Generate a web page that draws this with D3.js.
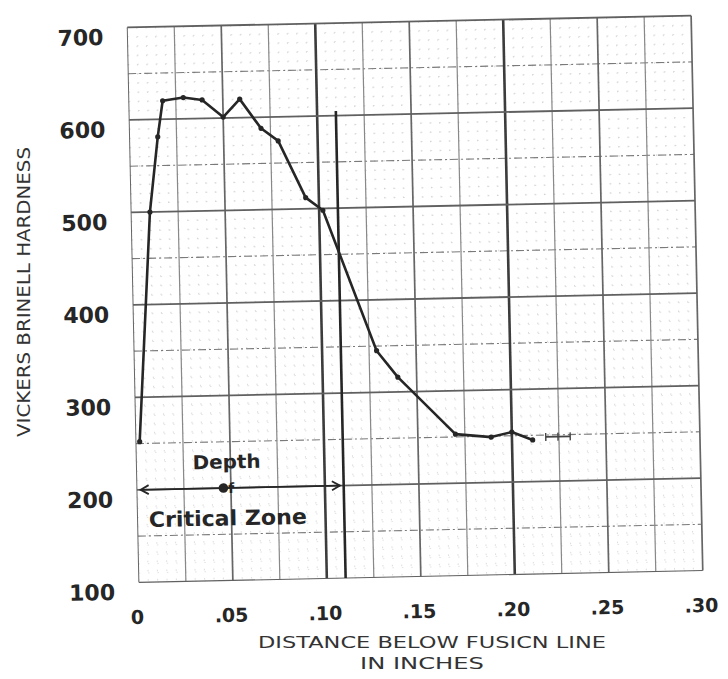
<!DOCTYPE html>
<html>
<head>
<meta charset="utf-8">
<script src="https://cdn.jsdelivr.net/npm/d3@7"></script>
<style>
  body { margin: 0; background: #fff; }
</style>
</head>
<body>
<div id="chart"></div>
<script>
// hardness traverse
const distance = [0.002, 0.010, 0.015, 0.018, 0.029, 0.039, 0.050, 0.059, 0.070, 0.079, 0.093, 0.102, 0.129, 0.140, 0.170, 0.189, 0.200, 0.211];
const hardness = [252, 500, 581, 620, 623, 620, 601, 620, 588, 574, 512, 498, 345, 316, 253, 249, 254, 245];

// short ticked stub drawn after the last reading
const tailDistance = [0.218, 0.231];
const tailHardness = [248, 248];

const xTicks = [0, 0.05, 0.10, 0.15, 0.20, 0.25, 0.30];
const xTickLabels = ['0', '.05', '.10', '.15', '.20', '.25', '.30'];
const yTicks = [100, 200, 300, 400, 500, 600, 700];
const yTickLabels = ['100', '200', '300', '400', '500', '600', '700'];

const criticalDepth = 0.11;
const criticalTop = 605;
const zoneLevel = 200;

const width = 728, height = 679;
const ink = '#262626';

const svg = d3.select('#chart')
  .append('svg')
  .attr('width', width)
  .attr('height', height)
  .style('background', '#fff');

const xScale = d3.scaleLinear().domain([0, 0.30]).range([133, 697]);
const yScale = d3.scaleLinear().domain([100, 700]).range([576.5, 21.5]);

// the sheet sits slightly askew in the scan
const cx = (xScale.range()[0] + xScale.range()[1]) / 2;
const cy = (yScale.range()[0] + yScale.range()[1]) / 2;
const sheet = svg.append('g')
  .attr('transform', `rotate(-1.2, ${cx}, ${cy})`);

const defs = svg.append('defs');
['start', 'end'].forEach(function(k) {
  defs.append('marker')
    .attr('id', 'arrow-' + k)
    .attr('viewBox', '-10 -6 12 12')
    .attr('markerWidth', 12)
    .attr('markerHeight', 12)
    .attr('markerUnits', 'userSpaceOnUse')
    .attr('orient', k === 'start' ? 'auto-start-reverse' : 'auto')
    .append('path')
    .attr('d', 'M-8,-4.5 L0,0 L-8,4.5')
    .attr('fill', 'none')
    .attr('stroke', ink)
    .attr('stroke-width', 1.8);
});

// fine graph paper texture
const fineX = d3.range(0, 0.3001, 0.005);
const fineY = d3.range(100, 700.1, 10);
sheet.append('g')
  .selectAll('line')
  .data(fineX)
  .enter().append('line')
  .attr('x1', d => xScale(d)).attr('x2', d => xScale(d))
  .attr('y1', yScale(700)).attr('y2', yScale(100))
  .attr('stroke', '#aaa')
  .attr('stroke-width', 0.8)
  .attr('stroke-dasharray', '1.5,7.7')
  .attr('opacity', 0.5);
sheet.append('g')
  .selectAll('line')
  .data(fineY)
  .enter().append('line')
  .attr('x1', xScale(0)).attr('x2', xScale(0.3))
  .attr('y1', d => yScale(d)).attr('y2', d => yScale(d))
  .attr('stroke', '#aaa')
  .attr('stroke-width', 0.8)
  .attr('stroke-dasharray', '1.5,7.9')
  .attr('opacity', 0.4);

// dash-dot half lines
sheet.append('g')
  .selectAll('line')
  .data(d3.range(150, 700, 100))
  .enter().append('line')
  .attr('x1', xScale(0)).attr('x2', xScale(0.3))
  .attr('y1', d => yScale(d)).attr('y2', d => yScale(d))
  .attr('stroke', '#7a7a7a')
  .attr('stroke-width', 1.1)
  .attr('stroke-dasharray', '8,3,2,3');

// vertical rulings every .025
const vLines = d3.range(0, 0.3001, 0.025);
sheet.append('g')
  .selectAll('line')
  .data(vLines)
  .enter().append('line')
  .attr('x1', d => xScale(d)).attr('x2', d => xScale(d))
  .attr('y1', yScale(700)).attr('y2', yScale(100))
  .attr('stroke', function(d) {
    const k = Math.round(d * 1000);
    if (k === 100 || k === 200) return '#3c3c3c';
    if (k % 50 === 0) return '#666';
    return '#888';
  })
  .attr('stroke-width', function(d) {
    const k = Math.round(d * 1000);
    if (k === 100 || k === 200) return 2.6;
    if (k === 0) return 1;
    if (k % 50 === 0) return 1.7;
    return 1.2;
  });

// horizontal rulings every 100
sheet.append('g')
  .selectAll('line')
  .data(yTicks)
  .enter().append('line')
  .attr('x1', xScale(0)).attr('x2', xScale(0.3))
  .attr('y1', d => yScale(d)).attr('y2', d => yScale(d))
  .attr('stroke', '#606060')
  .attr('stroke-width', d => d === 100 ? 1.1 : 1.8);

// critical zone boundary
sheet.append('line')
  .attr('x1', xScale(criticalDepth)).attr('x2', xScale(criticalDepth))
  .attr('y1', yScale(criticalTop)).attr('y2', yScale(100))
  .attr('stroke', ink)
  .attr('stroke-width', 2.6);

// hardness curve
const points = distance.map((d, i) => ({ x: d, y: hardness[i] }));
const line = d3.line()
  .x(d => xScale(d.x))
  .y(d => yScale(d.y));

sheet.append('path')
  .datum(points)
  .attr('fill', 'none')
  .attr('stroke', ink)
  .attr('stroke-width', 2.6)
  .attr('stroke-linejoin', 'round')
  .attr('d', line);

sheet.append('g')
  .selectAll('circle')
  .data(points)
  .enter().append('circle')
  .attr('cx', d => xScale(d.x))
  .attr('cy', d => yScale(d.y))
  .attr('r', 2.6)
  .attr('fill', ink);

const tail = tailDistance.map((d, i) => ({ x: d, y: tailHardness[i] }));
sheet.append('path')
  .datum(tail)
  .attr('fill', 'none')
  .attr('stroke', '#444')
  .attr('stroke-width', 1.6)
  .attr('d', line);
sheet.append('g')
  .selectAll('line')
  .data(d3.range(tailDistance[0], tailDistance[1] + 0.0001, (tailDistance[1] - tailDistance[0]) / 2))
  .enter().append('line')
  .attr('x1', d => xScale(d)).attr('x2', d => xScale(d))
  .attr('y1', yScale(tailHardness[0]) - 4).attr('y2', yScale(tailHardness[0]) + 4)
  .attr('stroke', '#444')
  .attr('stroke-width', 1.4);

// depth of critical zone arrow
sheet.append('line')
  .attr('x1', xScale(0.002)).attr('x2', xScale(criticalDepth - 0.002))
  .attr('y1', yScale(zoneLevel)).attr('y2', yScale(zoneLevel))
  .attr('stroke', ink)
  .attr('stroke-width', 1.8)
  .attr('marker-start', 'url(#arrow-start)')
  .attr('marker-end', 'url(#arrow-end)');

sheet.append('circle')
  .attr('cx', xScale(0.046))
  .attr('cy', yScale(zoneLevel))
  .attr('r', 4.8)
  .attr('fill', ink);

const hand = 'DejaVu Sans, Verdana, sans-serif';

sheet.append('text')
  .attr('x', xScale(0.048))
  .attr('y', yScale(227))
  .attr('text-anchor', 'middle')
  .attr('dominant-baseline', 'middle')
  .attr('font-family', hand)
  .attr('font-weight', 'bold')
  .attr('font-size', 19)
  .attr('fill', ink)
  .attr('textLength', 68)
  .attr('lengthAdjust', 'spacingAndGlyphs')
  .text('Depth');

sheet.append('text')
  .attr('x', xScale(0.0485))
  .attr('y', yScale(zoneLevel) + 1)
  .attr('dominant-baseline', 'middle')
  .attr('font-family', hand)
  .attr('font-weight', 'bold')
  .attr('font-size', 14)
  .attr('fill', ink)
  .text('f');

sheet.append('text')
  .attr('x', xScale(0.048))
  .attr('y', yScale(166))
  .attr('text-anchor', 'middle')
  .attr('dominant-baseline', 'middle')
  .attr('font-family', hand)
  .attr('font-weight', 'bold')
  .attr('font-size', 21)
  .attr('fill', ink)
  .attr('textLength', 158)
  .attr('lengthAdjust', 'spacingAndGlyphs')
  .text('Critical Zone');

// tick labels
sheet.append('g')
  .selectAll('text')
  .data(yTicks)
  .enter().append('text')
  .attr('x', 109)
  .attr('y', d => yScale(d) + 11)
  .attr('text-anchor', 'end')
  .attr('dominant-baseline', 'middle')
  .attr('font-family', hand)
  .attr('font-weight', 'bold')
  .attr('font-size', 22)
  .attr('fill', ink)
  .text((d, i) => yTickLabels[i]);

sheet.append('g')
  .selectAll('text')
  .data(xTicks)
  .enter().append('text')
  .attr('x', d => xScale(d) - 2)
  .attr('y', yScale(100) + 36)
  .attr('text-anchor', 'middle')
  .attr('dominant-baseline', 'middle')
  .attr('font-family', hand)
  .attr('font-weight', 'bold')
  .attr('font-size', 19)
  .attr('fill', ink)
  .text((d, i) => xTickLabels[i]);

// axis titles
svg.append('text')
  .attr('transform', 'translate(25, 292) rotate(-90)')
  .attr('text-anchor', 'middle')
  .attr('dominant-baseline', 'middle')
  .attr('font-family', hand)
  .attr('font-size', 17)
  .attr('fill', '#333')
  .attr('textLength', 290)
  .attr('lengthAdjust', 'spacingAndGlyphs')
  .text('VICKERS BRINELL HARDNESS');

svg.append('text')
  .attr('x', 432)
  .attr('y', 643)
  .attr('text-anchor', 'middle')
  .attr('dominant-baseline', 'middle')
  .attr('font-family', hand)
  .attr('font-size', 15)
  .attr('fill', '#333')
  .attr('textLength', 348)
  .attr('lengthAdjust', 'spacingAndGlyphs')
  .text('DISTANCE BELOW FUSICN LINE');

svg.append('text')
  .attr('x', 422)
  .attr('y', 664)
  .attr('text-anchor', 'middle')
  .attr('dominant-baseline', 'middle')
  .attr('font-family', hand)
  .attr('font-size', 15)
  .attr('fill', '#333')
  .attr('textLength', 124)
  .attr('lengthAdjust', 'spacingAndGlyphs')
  .text('IN INCHES');
</script>
</body>
</html>
